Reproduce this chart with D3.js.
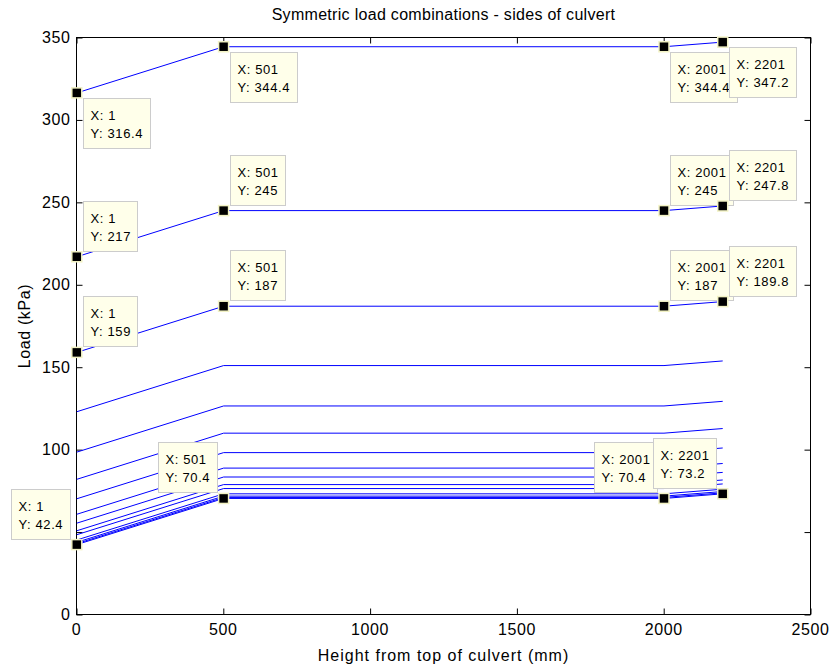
<!DOCTYPE html>
<html>
<head>
<meta charset="utf-8">
<script src="https://cdn.jsdelivr.net/npm/d3@7"></script>
<style>
  body { margin: 0; background: #fff; }
  text { font-family: "Liberation Sans", Arial, sans-serif; }
</style>
</head>
<body>
<div class="chart"></div>
<script>
// heights where each load combination was sampled
var heights = [1, 501, 2001, 2201];

// one row per load combination (kPa at each height)
var combo1  = [316.4, 344.4, 344.4, 347.2];
var combo2  = [217, 245, 245, 247.8];
var combo3  = [159, 187, 187, 189.8];
var combo4  = [123, 151, 151, 153.8];
var combo5  = [98.5, 126.5, 126.5, 129.3];
var combo6  = [82, 110, 110, 112.8];
var combo7  = [70.2, 98.2, 98.2, 101];
var combo8  = [60.8, 88.8, 88.8, 91.6];
var combo9  = [55.4, 83.4, 83.4, 86.2];
var combo10 = [50.8, 78.8, 78.8, 81.6];
var combo11 = [48.4, 76.4, 76.4, 79.2];
var combo12 = [45.2, 73.2, 73.2, 76];
var combo13 = [43.8, 71.8, 71.8, 74.6];
var combo14 = [43, 71, 71, 73.8];
var combo15 = [42.4, 70.4, 70.4, 73.2];
var combos = [combo1, combo2, combo3, combo4, combo5, combo6, combo7, combo8,
              combo9, combo10, combo11, combo12, combo13, combo14, combo15];

var xTicks = [0, 500, 1000, 1500, 2000, 2500];
var yTicks = [0, 50, 100, 150, 200, 250, 300, 350];

// data tips: which combination gets a tip at every height
var tipCombos = [0, 1, 2, 14];
// where the tip box sits relative to its point (one per tip row)
var tipPlace = ["dr", "ur", "ur", "ul"];

var width = 834, height = 668;
var plot = {left: 76.5, right: 810.5, top: 37.5, bottom: 614.5};

var svg = d3.select(".chart")
  .append("svg")
    .attr("width", width)
    .attr("height", height);

var x = d3.scaleLinear().domain([0, 2500]).range([plot.left, plot.right]);
var y = d3.scaleLinear().domain([0, 350]).range([plot.bottom, plot.top]);

var tickLen = 6;

// axes box, ticks point inward like matlab
svg.append("g")
  .attr("transform", "translate(0," + plot.bottom + ")")
  .call(d3.axisTop(x).tickValues(xTicks).tickSize(tickLen).tickFormat(""));
svg.append("g")
  .attr("transform", "translate(0," + plot.top + ")")
  .call(d3.axisBottom(x).tickValues(xTicks).tickSize(tickLen).tickFormat(""));
svg.append("g")
  .attr("transform", "translate(" + plot.left + ",0)")
  .call(d3.axisRight(y).tickValues(yTicks).tickSize(tickLen).tickFormat(""));
svg.append("g")
  .attr("transform", "translate(" + plot.right + ",0)")
  .call(d3.axisLeft(y).tickValues(yTicks).tickSize(tickLen).tickFormat(""));
svg.selectAll(".domain").remove();
svg.selectAll(".tick line").attr("stroke", "#000");

svg.append("rect")
  .attr("x", plot.left).attr("y", plot.top)
  .attr("width", plot.right - plot.left)
  .attr("height", plot.bottom - plot.top)
  .attr("fill", "none")
  .attr("stroke", "#000");

// tick labels
svg.selectAll(".xlab")
  .data(xTicks)
  .enter().append("text")
    .attr("x", function(d) { return x(d); })
    .attr("y", plot.bottom + 20)
    .attr("text-anchor", "middle")
    .style("font-size", "16px")
    .style("letter-spacing", "0.6px")
    .text(function(d) { return d; });

svg.selectAll(".ylab")
  .data(yTicks)
  .enter().append("text")
    .attr("x", plot.left - 6)
    .attr("y", function(d) { return y(d) + 5.5; })
    .attr("text-anchor", "end")
    .style("font-size", "16px")
    .style("letter-spacing", "0.6px")
    .text(function(d) { return d; });

// titles
svg.append("text")
  .attr("x", (plot.left + plot.right) / 2)
  .attr("y", 20)
  .attr("text-anchor", "middle")
  .style("font-size", "16px")
  .style("letter-spacing", "0.3px")
  .text("Symmetric load combinations - sides of culvert");

svg.append("text")
  .attr("x", (plot.left + plot.right) / 2)
  .attr("y", 661)
  .attr("text-anchor", "middle")
  .style("font-size", "16px")
  .style("letter-spacing", "1px")
  .text("Height from top of culvert (mm)");

svg.append("text")
  .attr("transform", "translate(30," + (plot.top + plot.bottom) / 2 + ") rotate(-90)")
  .attr("text-anchor", "middle")
  .style("font-size", "16px")
  .style("letter-spacing", "0.6px")
  .text("Load (kPa)");

// load lines
var line = d3.line()
  .x(function(d, i) { return x(heights[i]); })
  .y(function(d) { return y(d); });

svg.append("g")
  .selectAll("path")
  .data(combos)
  .enter().append("path")
    .attr("d", line)
    .attr("fill", "none")
    .attr("stroke", "#0000ff")
    .attr("stroke-width", 1);

// data tips
var tips = [];
tipCombos.forEach(function(c, r) {
  heights.forEach(function(h, i) {
    tips.push({hx: h, val: combos[c][i], place: tipPlace[r]});
  });
});

var boxH = 50;
tips.forEach(function(t) {
  var px = x(t.hx), py = y(t.val);
  var g = svg.append("g");
  var box = g.append("rect")
    .attr("fill", "#ffffea")
    .attr("stroke", "#cccccc");
  var t1 = g.append("text").style("font-size", "13px").style("letter-spacing", "0.6px")
    .text("X: " + t.hx);
  var t2 = g.append("text").style("font-size", "13px").style("letter-spacing", "0.6px")
    .text("Y: " + t.val);
  var tw = Math.max(t1.node().getComputedTextLength(), t2.node().getComputedTextLength());
  var bw = Math.round(tw + 14);
  var bx, by;
  if (t.place == "dr") { bx = px + 6; by = py + 5; }
  else if (t.place == "ur") { bx = px + 6; by = py - 6 - boxH; }
  else { bx = px - 7 - bw; by = py - 6 - boxH; }
  bx = Math.round(bx) + 0.5; by = Math.round(by) + 0.5;
  box.attr("x", bx).attr("y", by).attr("width", bw).attr("height", boxH);
  t1.attr("x", bx + 7).attr("y", by + 21);
  t2.attr("x", bx + 7).attr("y", by + 39);
  g.append("rect")
    .attr("x", px - 5).attr("y", py - 5)
    .attr("width", 10).attr("height", 10)
    .attr("fill", "#000")
    .attr("stroke", "#f2f2c4")
    .attr("stroke-width", 1.5);
});
</script>
</body>
</html>
